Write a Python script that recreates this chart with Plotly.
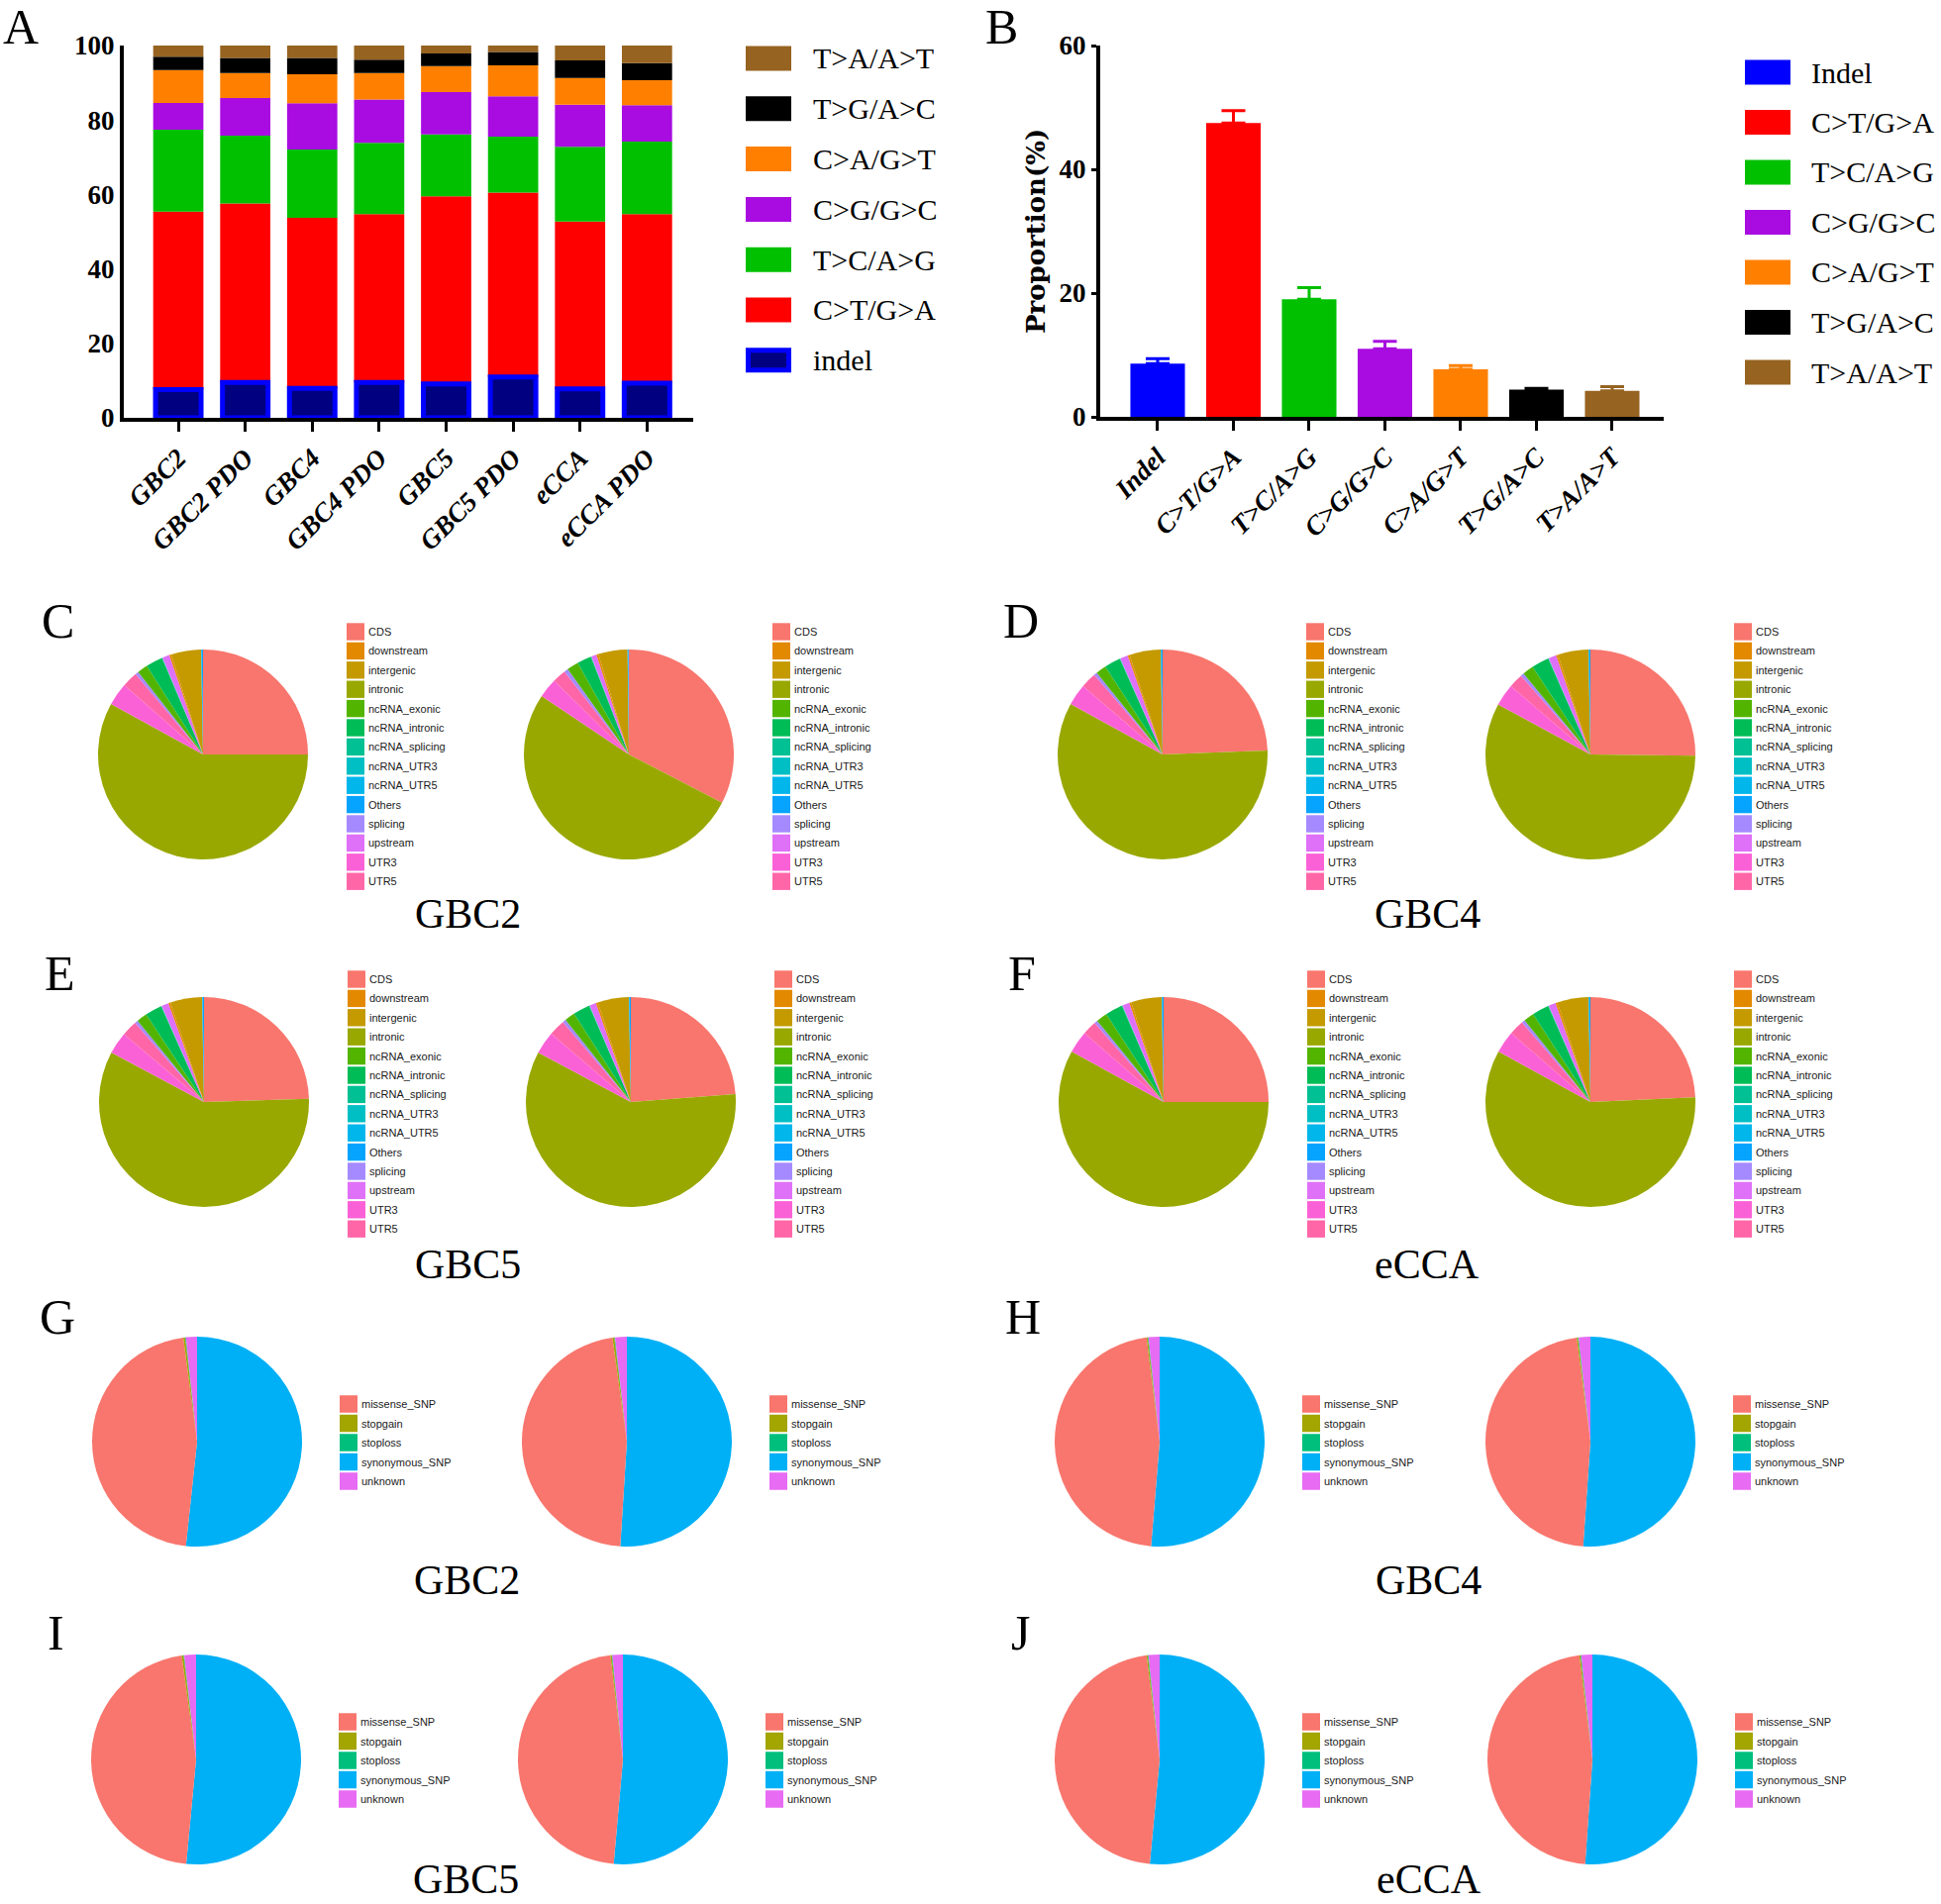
import plotly.graph_objects as go

W, H = 1960, 1923

# ---- panel A: mutation spectrum per sample (stacked %) ----
samples = ["GBC2", "GBC2 PDO", "GBC4", "GBC4 PDO", "GBC5", "GBC5 PDO", "eCCA", "eCCA PDO"]
a_indel = [7.6, 9.5, 7.9, 9.5, 9.1, 11.0, 7.8, 9.3]
a_ct_ga = [47.8, 48.1, 45.8, 45.2, 50.4, 49.5, 44.9, 45.4]
a_tc_ag = [22.0, 18.2, 18.4, 19.2, 16.6, 15.0, 20.1, 19.5]
a_cg_gc = [7.2, 10.1, 12.4, 11.6, 11.4, 10.9, 11.3, 9.8]
a_ca_gt = [8.8, 6.7, 7.8, 7.1, 7.0, 8.3, 7.2, 6.7]
a_tg_ac = [3.6, 4.1, 4.4, 3.6, 3.4, 3.6, 4.7, 4.6]
a_ta_at = [3.0, 3.3, 3.3, 3.8, 2.1, 1.7, 4.0, 4.7]

# ---- panel B: mean proportion with SEM ----
mut_types = ["Indel", "C>T/G>A", "T>C/A>G", "C>G/G>C", "C>A/G>T", "T>G/A>C", "T>A/A>T"]
mean_prop = [8.6, 47.5, 19.0, 11.0, 7.7, 4.4, 4.2]
sem_prop = [0.8, 2.0, 1.9, 1.2, 0.6, 0.2, 0.7]
mut_colors = ["#0000FF", "#FF0000", "#00C000", "#A80CE0", "#FF8000", "#000000", "#966321"]

# ---- panels C-F: genomic region of variants ----
region_labels = ["CDS", "downstream", "intergenic", "intronic", "ncRNA_exonic", "ncRNA_intronic",
                 "ncRNA_splicing", "ncRNA_UTR3", "ncRNA_UTR5", "Others", "splicing", "upstream",
                 "UTR3", "UTR5"]
region_colors = ["#F8766D", "#E38900", "#C49A00", "#99A800", "#53B400", "#00BC56", "#00C094",
                 "#00BFC4", "#00B6EB", "#06A4FF", "#A58AFF", "#DF70F8", "#FB61D7", "#FF66A8"]
region_gbc2 = [25.0, 0.3, 4.6, 58.0, 1.6, 2.6, 0.05, 0.05, 0.1, 0.2, 0.5, 1.1, 3.5, 2.4]
region_gbc2_pdo = [32.6, 0.3, 4.5, 51.8, 1.8, 2.2, 0.05, 0.05, 0.1, 0.1, 0.6, 0.8, 3.0, 2.1]
region_gbc4 = [24.4, 0.3, 4.8, 58.6, 1.6, 2.5, 0.05, 0.05, 0.1, 0.2, 0.5, 1.2, 3.3, 2.4]
region_gbc4_pdo = [25.2, 0.3, 4.7, 57.7, 1.7, 2.7, 0.05, 0.05, 0.1, 0.2, 0.5, 1.2, 3.4, 2.2]
region_gbc5 = [24.5, 0.3, 4.9, 58.3, 1.6, 2.6, 0.05, 0.05, 0.1, 0.2, 0.5, 1.1, 3.4, 2.4]
region_gbc5_pdo = [23.8, 0.3, 4.8, 59.0, 1.6, 2.6, 0.05, 0.05, 0.1, 0.2, 0.5, 1.0, 3.5, 2.5]
region_ecca = [25.0, 0.3, 4.7, 58.0, 1.7, 2.7, 0.05, 0.05, 0.1, 0.2, 0.5, 1.1, 3.4, 2.2]
region_ecca_pdo = [24.3, 0.3, 4.8, 58.7, 1.6, 2.6, 0.05, 0.05, 0.1, 0.2, 0.5, 1.1, 3.4, 2.3]
# clockwise order of slices from 12 o'clock as drawn in the original
region_draw_order = ["CDS", "intronic", "UTR3", "UTR5", "splicing", "ncRNA_exonic", "ncRNA_intronic",
                     "ncRNA_splicing", "ncRNA_UTR3", "upstream", "downstream", "intergenic",
                     "ncRNA_UTR5", "Others"]

# ---- panels G-J: exonic function ----
effect_labels = ["missense_SNP", "stopgain", "stoploss", "synonymous_SNP", "unknown"]
effect_colors = ["#F8766D", "#A3A500", "#00BF7D", "#00B0F6", "#E76BF3"]
effect_gbc2 = [46.2, 0.3, 0.1, 51.7, 1.7]
effect_gbc2_pdo = [46.8, 0.3, 0.1, 51.0, 1.8]
effect_gbc4 = [46.7, 0.2, 0.1, 51.3, 1.7]
effect_gbc4_pdo = [46.8, 0.2, 0.1, 51.1, 1.8]
effect_gbc5 = [46.3, 0.3, 0.1, 51.5, 1.8]
effect_gbc5_pdo = [46.7, 0.2, 0.1, 51.4, 1.6]
effect_ecca = [46.5, 0.2, 0.1, 51.5, 1.7]
effect_ecca_pdo = [46.9, 0.2, 0.1, 51.1, 1.7]
effect_draw_order = ["synonymous_SNP", "missense_SNP", "stopgain", "stoploss", "unknown"]

SERIF = "Liberation Serif"
SANS = "Liberation Sans"


def px(x):
    return x / W


def py(y):
    return 1 - y / H


fig = go.Figure()
annotations = []
shapes = []

# ---------------- panel A ----------------
a_names = ["indel", "C>T/G>A", "T>C/A>G", "C>G/G>C", "C>A/G>T", "T>G/A>C", "T>A/A>T"]
a_series = [a_indel, a_ct_ga, a_tc_ag, a_cg_gc, a_ca_gt, a_tg_ac, a_ta_at]
base = [0.0] * len(samples)
bases = []
for vals in a_series:
    bases.append(list(base))
    base = [b + v for b, v in zip(base, vals)]

for k in range(1, len(a_series)):
    fig.add_trace(go.Bar(x=samples, y=a_series[k], base=bases[k], width=0.75,
                         marker=dict(color=mut_colors[k], line=dict(width=0)),
                         name=a_names[k], xaxis="x", yaxis="y"))
# indel: navy fill with blue rim, drawn last
fig.add_trace(go.Bar(x=samples, y=a_indel, base=bases[0], width=0.68,
                     marker=dict(color="#000080", line=dict(color="#0000FF", width=5)),
                     name="indel", xaxis="x", yaxis="y"))

# legend A (top to bottom reversed stack)
for i, k in enumerate(reversed(range(len(a_names)))):
    cy = 59 + i * 50.8
    if k == 0:
        shapes.append(dict(type="rect", xref="paper", yref="paper",
                           x0=px(755.5), x1=px(796.5), y0=py(cy + 10), y1=py(cy - 10),
                           fillcolor="#000080", line=dict(color="#0000FF", width=5)))
    else:
        shapes.append(dict(type="rect", xref="paper", yref="paper",
                           x0=px(753), x1=px(799), y0=py(cy + 12.5), y1=py(cy - 12.5),
                           fillcolor=mut_colors[k], line=dict(width=0)))
    annotations.append(dict(x=px(819), y=py(cy), xref="paper", yref="paper", text=a_names[k],
                            showarrow=False, xanchor="left", yanchor="middle",
                            font=dict(family=SERIF, size=30, color="black")))

# ---------------- panel B ----------------
for k, name in enumerate(mut_types):
    fig.add_trace(go.Bar(x=[name], y=[mean_prop[k]], width=0.72,
                         marker=dict(color=mut_colors[k], line=dict(width=0)),
                         error_y=dict(type="data", array=[sem_prop[k]], arrayminus=[0],
                                      symmetric=False, color=mut_colors[k], thickness=3, width=12),
                         name=name, xaxis="x2", yaxis="y2"))

for i, name in enumerate(mut_types):
    cy = 73 + i * 50.5
    shapes.append(dict(type="rect", xref="paper", yref="paper",
                       x0=px(1762), x1=px(1808), y0=py(cy + 12.5), y1=py(cy - 12.5),
                       fillcolor=mut_colors[i], line=dict(width=0)))
    annotations.append(dict(x=px(1827), y=py(cy), xref="paper", yref="paper", text=name,
                            showarrow=False, xanchor="left", yanchor="middle",
                            font=dict(family=SERIF, size=30, color="black")))

annotations.append(dict(x=px(1046), y=py(234), xref="paper", yref="paper", text="Proportion(%)",
                        showarrow=False, textangle=-90, xanchor="center", yanchor="middle",
                        font=dict(family="DejaVu Serif", size=26, color="black", weight="bold")))

axis_font = dict(family=SERIF, size=27, color="black", weight="bold")
tick_font = dict(family=SERIF, size=27, color="black", weight="bold", style="italic")

fig.update_layout(
    xaxis=dict(domain=[px(125), px(700)], range=[-0.814, 7.69], anchor="y",
               showline=True, linecolor="black", linewidth=4, ticks="outside", ticklen=10,
               tickwidth=3, tickcolor="black", tickangle=-45, tickfont=tick_font,
               showgrid=False, zeroline=False),
    yaxis=dict(domain=[py(422), py(46)], range=[0, 100], anchor="x",
               showline=True, linecolor="black", linewidth=4, ticks="",
               tickvals=[0, 20, 40, 60, 80, 100],
               tickfont=axis_font, showgrid=False, zeroline=False),
    xaxis2=dict(domain=[px(1111), px(1680)], range=[-0.758, 6.68], anchor="y2",
                showline=True, linecolor="black", linewidth=4, ticks="outside", ticklen=10,
                tickwidth=3, tickcolor="black", tickangle=-45, tickfont=tick_font,
                showgrid=False, zeroline=False),
    yaxis2=dict(domain=[py(421), py(46)], range=[0, 60], anchor="x2",
                showline=True, linecolor="black", linewidth=4, ticks="outside", ticklen=5,
                tickwidth=3, tickcolor="black", tickvals=[0, 20, 40, 60],
                tickfont=axis_font, showgrid=False, zeroline=False),
)

# ---------------- pies ----------------
R = 106
region_pies = [
    (region_gbc2, 205, 762), (region_gbc2_pdo, 635, 762),
    (region_gbc4, 1174, 762), (region_gbc4_pdo, 1606, 762),
    (region_gbc5, 206, 1113), (region_gbc5_pdo, 637, 1113),
    (region_ecca, 1175, 1113), (region_ecca_pdo, 1606, 1113),
]
effect_pies = [
    (effect_gbc2, 199, 1456), (effect_gbc2_pdo, 633, 1456),
    (effect_gbc4, 1171, 1456), (effect_gbc4_pdo, 1606, 1456),
    (effect_gbc5, 198, 1777), (effect_gbc5_pdo, 629, 1777),
    (effect_ecca, 1171, 1777), (effect_ecca_pdo, 1608, 1777),
]


def add_pie(values, labels, colors, order, cx, cy):
    lookup = dict(zip(labels, zip(values, colors)))
    fig.add_trace(go.Pie(
        labels=order, values=[lookup[n][0] for n in order],
        marker=dict(colors=[lookup[n][1] for n in order], line=dict(width=0)),
        sort=False, direction="clockwise", rotation=0, textinfo="none", showlegend=False,
        domain=dict(x=[px(cx - R), px(cx + R)], y=[py(cy + R), py(cy - R)])))


def add_pie_legend(labels, colors, x0, y_first, step):
    for i, (lab, col) in enumerate(zip(labels, colors)):
        cy = y_first + i * step
        shapes.append(dict(type="rect", xref="paper", yref="paper",
                           x0=px(x0), x1=px(x0 + 18), y0=py(cy + step / 2 - 1), y1=py(cy - step / 2 + 1),
                           fillcolor=col, line=dict(width=0)))
        annotations.append(dict(x=px(x0 + 20), y=py(cy), xref="paper", yref="paper", text=lab,
                                showarrow=False, xanchor="left", yanchor="middle",
                                font=dict(family=SANS, size=11, color="#1a1a1a")))


for vals, cx, cy in region_pies:
    add_pie(vals, region_labels, region_colors, region_draw_order, cx, cy)
    add_pie_legend(region_labels, region_colors, cx + 145, cy - 124, 19.4)

for vals, cx, cy in effect_pies:
    add_pie(vals, effect_labels, effect_colors, effect_draw_order, cx, cy)
    add_pie_legend(effect_labels, effect_colors, cx + 144, cy - 38, 19.5)

# sample captions under pie pairs
captions = [("GBC2", 472, 923), ("GBC4", 1441, 923), ("GBC5", 472, 1277), ("eCCA", 1441, 1277),
            ("GBC2", 471, 1596), ("GBC4", 1442, 1596), ("GBC5", 470, 1898), ("eCCA", 1443, 1898)]
for text, x, y in captions:
    annotations.append(dict(x=px(x), y=py(y), xref="paper", yref="paper", text=text,
                            showarrow=False, xanchor="center", yanchor="middle",
                            font=dict(family=SERIF, size=42, color="black")))

# panel letters
letters = [("A", 21, 27), ("B", 1011, 27), ("C", 58, 627), ("D", 1031, 627),
           ("E", 60, 983), ("F", 1032, 983), ("G", 58, 1330), ("H", 1033, 1330),
           ("I", 56, 1649), ("J", 1030, 1649)]
for text, x, y in letters:
    annotations.append(dict(x=px(x), y=py(y), xref="paper", yref="paper", text=text,
                            showarrow=False, xanchor="center", yanchor="middle",
                            font=dict(family=SERIF, size=50, color="black")))

fig.update_layout(
    width=W, height=H, margin=dict(l=0, r=0, t=0, b=0, autoexpand=False),
    paper_bgcolor="white", plot_bgcolor="white",
    barmode="overlay", showlegend=False,
    annotations=annotations, shapes=shapes,
)

# the page body has a default 8px margin; drop it so the figure fills the window
fig.write_html("out.html", config={"displayModeBar": False},
               post_script="document.body.style.margin = '0px';")
